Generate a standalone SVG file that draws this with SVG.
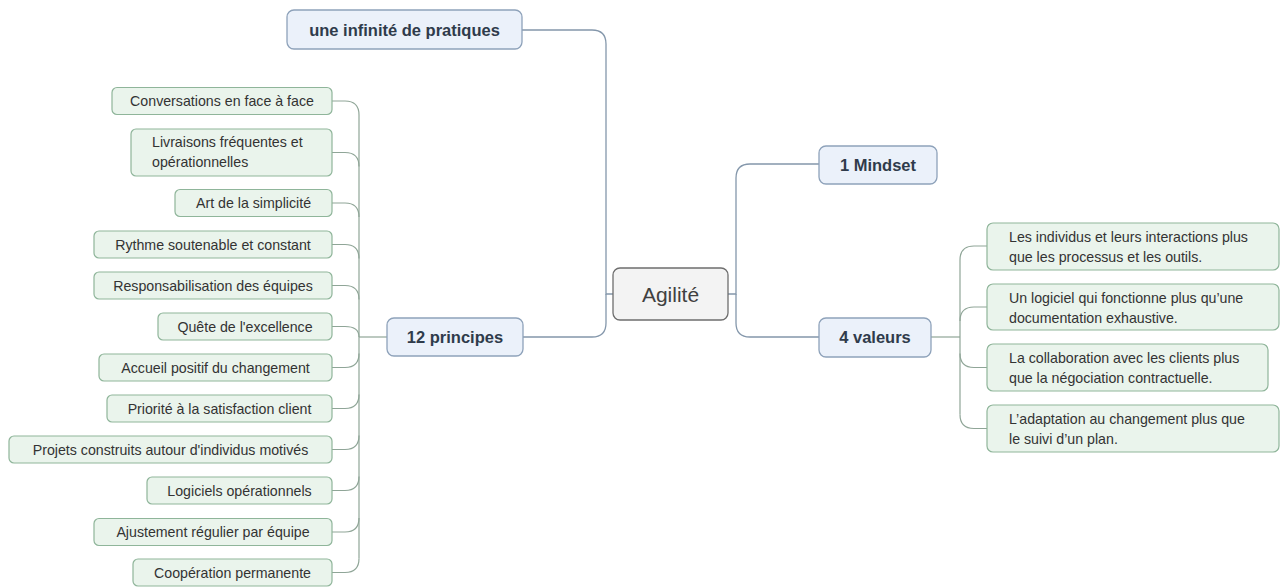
<svg xmlns="http://www.w3.org/2000/svg" width="1285" height="587" viewBox="0 0 1285 587">
<style>
.root rect{fill:#f3f3f3;stroke:#6e6e6e;stroke-width:1.3}
.root text{font-family:"Liberation Sans",Arial,sans-serif;font-size:21px;fill:#404040;text-anchor:middle}
.l1 rect{fill:#ebf1fa;stroke:#8ea2ba;stroke-width:1.3}
.l1 text{font-family:"Liberation Sans",Arial,sans-serif;font-size:16.5px;font-weight:bold;fill:#2f3b4b;text-anchor:middle}
.l2 rect{fill:#eaf4ec;stroke:#8fb59a;stroke-width:1.2}
.l2 text{font-family:"Liberation Sans",Arial,sans-serif;font-size:14.2px;fill:#333;text-anchor:middle}
.l2 text.ml{text-anchor:start}
.c1{fill:none;stroke:#8497ab;stroke-width:1.3}
.c2{fill:none;stroke:#8fa597;stroke-width:1.2}
</style>
<rect width="1285" height="587" fill="#fff"/>
<g id="connectors">
<path class="c1" d="M613,294 H606 V44 Q606,30 592,30 H522"/>
<path class="c1" d="M606,294 V323 Q606,337 592,337 H523"/>
<path class="c1" d="M728,294 H736 V178 Q736,164 750,164 H819"/>
<path class="c1" d="M736,294 V323 Q736,337 750,337 H819"/>
<path class="c2" d="M387,337 H359"/>
<path class="c2" d="M359,115 V558.5"/>
<path class="c2" d="M359,115 Q359,101 345,101 H332"/>
<path class="c2" d="M359,166.5 Q359,152.5 345,152.5 H332"/>
<path class="c2" d="M359,217 Q359,203 345,203 H332"/>
<path class="c2" d="M359,258.5 Q359,244.5 345,244.5 H332"/>
<path class="c2" d="M359,299.5 Q359,285.5 345,285.5 H332"/>
<path class="c2" d="M359,337 Q359,326.5 345,326.5 H332"/>
<path class="c2" d="M359,353.5 Q359,367.5 345,367.5 H332"/>
<path class="c2" d="M359,394.5 Q359,408.5 345,408.5 H332"/>
<path class="c2" d="M359,435.5 Q359,449.5 345,449.5 H332"/>
<path class="c2" d="M359,476.5 Q359,490.5 345,490.5 H332"/>
<path class="c2" d="M359,518 Q359,532 345,532 H332"/>
<path class="c2" d="M359,558.5 Q359,572.5 345,572.5 H332"/>
<path class="c2" d="M931,337 H960"/>
<path class="c2" d="M960,260 V414.5"/>
<path class="c2" d="M960,260 Q960,246 974,246 H987"/>
<path class="c2" d="M960,321 Q960,307 974,307 H987"/>
<path class="c2" d="M960,353.5 Q960,367.5 974,367.5 H987"/>
<path class="c2" d="M960,414.5 Q960,428.5 974,428.5 H987"/>
</g>
<g id="agilite" class="root"><rect x="613" y="268" width="115" height="52" rx="7"/><text x="670.5" y="301.5">Agilité</text></g>
<g id="pratiques" class="l1"><rect x="287" y="10" width="235" height="39" rx="7"/><text x="404.5" y="35.5">une infinité de pratiques</text></g>
<g id="principes" class="l1"><rect x="387" y="318" width="136" height="38" rx="7"/><text x="455" y="343">12 principes</text></g>
<g id="mindset" class="l1"><rect x="819" y="146" width="118" height="38" rx="7"/><text x="878" y="170.5">1 Mindset</text></g>
<g id="valeurs" class="l1"><rect x="819" y="318" width="112" height="39" rx="7"/><text x="875" y="343">4 valeurs</text></g>
<g id="p1" class="l2"><rect x="112" y="87.5" width="220" height="27" rx="5"/><text x="222" y="106">Conversations en face à face</text></g>
<g id="p2" class="l2"><rect x="131" y="129" width="201" height="47" rx="5"/><text class="ml" x="152" y="147">Livraisons fréquentes et</text><text class="ml" x="152" y="167">opérationnelles</text></g>
<g id="p3" class="l2"><rect x="175" y="189.5" width="157" height="27" rx="5"/><text x="253.5" y="208">Art de la simplicité</text></g>
<g id="p4" class="l2"><rect x="94" y="231" width="238" height="27" rx="5"/><text x="213" y="249.5">Rythme soutenable et constant</text></g>
<g id="p5" class="l2"><rect x="94" y="272" width="238" height="27" rx="5"/><text x="213" y="290.5">Responsabilisation des équipes</text></g>
<g id="p6" class="l2"><rect x="158" y="313" width="174" height="27" rx="5"/><text x="245" y="331.5">Quête de l'excellence</text></g>
<g id="p7" class="l2"><rect x="99" y="354" width="233" height="27" rx="5"/><text x="215.5" y="372.5">Accueil positif du changement</text></g>
<g id="p8" class="l2"><rect x="107" y="395" width="225" height="27" rx="5"/><text x="219.5" y="413.5">Priorité à la satisfaction client</text></g>
<g id="p9" class="l2"><rect x="9" y="436" width="323" height="27" rx="5"/><text x="170.5" y="454.5">Projets construits autour d'individus motivés</text></g>
<g id="p10" class="l2"><rect x="147" y="477" width="185" height="27" rx="5"/><text x="239.5" y="495.5">Logiciels opérationnels</text></g>
<g id="p11" class="l2"><rect x="94" y="518.5" width="238" height="27" rx="5"/><text x="213" y="537">Ajustement régulier par équipe</text></g>
<g id="p12" class="l2"><rect x="133" y="559" width="199" height="27" rx="5"/><text x="232.5" y="577.5">Coopération permanente</text></g>
<g id="v1" class="l2"><rect x="987" y="223" width="292" height="47" rx="6"/><text class="ml" x="1009" y="242">Les individus et leurs interactions plus</text><text class="ml" x="1009" y="262">que les processus et les outils.</text></g>
<g id="v2" class="l2"><rect x="987" y="284" width="292" height="46" rx="6"/><text class="ml" x="1009" y="302.5">Un logiciel qui fonctionne plus qu’une</text><text class="ml" x="1009" y="322.5">documentation exhaustive.</text></g>
<g id="v3" class="l2"><rect x="987" y="344" width="281" height="47" rx="6"/><text class="ml" x="1009" y="363">La collaboration avec les clients plus</text><text class="ml" x="1009" y="383">que la négociation contractuelle.</text></g>
<g id="v4" class="l2"><rect x="987" y="405" width="292" height="47" rx="6"/><text class="ml" x="1009" y="424">L’adaptation au changement plus que</text><text class="ml" x="1009" y="444">le suivi d’un plan.</text></g>
</svg>
